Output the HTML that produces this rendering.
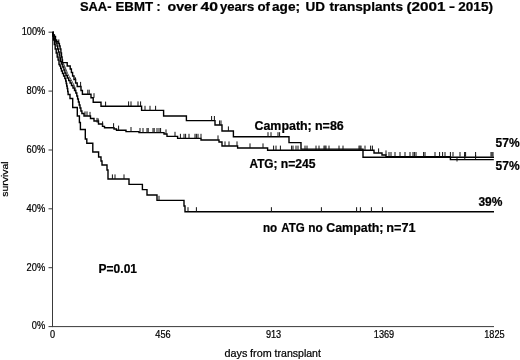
<!DOCTYPE html>
<html><head><meta charset="utf-8"><title>SAA-EBMT survival</title>
<style>
html,body{margin:0;padding:0;background:#fff;}
body{width:520px;height:360px;overflow:hidden;font-family:"Liberation Sans",sans-serif;}
svg{display:block;will-change:transform;}
</style></head><body>
<svg width="520" height="360" viewBox="0 0 520 360">
<rect width="520" height="360" fill="#ffffff"/>
<g stroke="#3a3a3a" stroke-width="1" fill="none">
<path d="M52.5 32V327"/>
<path d="M52 326.6H494"/>
<path d="M48.5 32.2H53"/>
<path d="M48.5 91.1H53"/>
<path d="M48.5 150.0H53"/>
<path d="M48.5 208.8H53"/>
<path d="M48.5 267.7H53"/>
<path d="M48.5 326.6H53"/>
</g>
<g stroke="#000" stroke-width="1.4" fill="none" stroke-linejoin="miter">
<path d="M52.9 32.2 H53.2 V35.0 H54.4 V36.5 H55.5 V40.0 H56.6 V41.5 H58.2 V43.5 H59.4 V46.0 H60.1 V49.0 H60.9 V53.0 H61.5 V57.0 H62.1 V60.0 H62.5 V62.6 H67.2 V66.0 H70.2 V69.0 H71.4 V72.5 H72.6 V76.0 H74.0 V79.5 H75.6 V83.0 H77.2 V86.5 H81.0 V90.5 H82.4 V94.3 H91.0 V97.8 H93.2 V102.2 H101.0 V106.2 H141.6 V110.4 H163.6 V116.0 H186.4 V120.6 H215.0 V125.0 H222.0 V131.0 H233.4 V136.8 H289.0 V142.6 H301.0 V149.1 H363.0 V157.2 H494.0"/>
<path d="M52.7 32.2 H53.0 V35.0 H53.8 V38.0 H54.8 V41.0 H55.9 V43.0 H57.0 V46.0 H57.7 V49.0 H58.4 V52.0 H59.2 V55.0 H59.9 V58.0 H60.4 V61.5 H61.4 V64.0 H62.8 V67.0 H63.9 V70.0 H64.9 V73.0 H66.0 V75.5 H67.3 V78.0 H68.7 V80.5 H70.1 V83.0 H71.5 V85.5 H73.0 V88.0 H74.5 V90.5 H75.8 V93.0 H76.8 V96.0 H77.6 V99.0 H78.4 V102.0 H79.2 V105.0 H80.0 V108.0 H80.9 V111.0 H81.9 V113.5 H84.0 V116.0 H90.5 V118.5 H94.0 V121.0 H98.5 V124.0 H102.5 V126.4 H104.5 V127.8 H114.0 V129.0 H116.5 V130.2 H126.0 V131.6 H139.0 V132.6 H164.0 V134.0 H167.0 V136.4 H177.6 V138.4 H201.0 V140.0 H219.0 V142.0 H222.0 V146.0 H237.6 V148.0 H267.6 V150.2 H374.0 V153.0 H382.0 V155.0 H386.0 V156.6 H450.4 V159.6 H493.8"/>
<path d="M52.4 32.2 H52.7 V36.0 H53.5 V40.0 H54.3 V44.5 H55.2 V49.0 H56.2 V53.0 H57.2 V57.0 H58.1 V60.0 H59.0 V64.5 H59.9 V66.0 H60.7 V68.5 H61.5 V71.0 H62.5 V73.5 H63.6 V76.0 H64.8 V78.5 H65.7 V81.0 H66.2 V83.5 H66.7 V86.0 H67.2 V88.5 H67.7 V91.5 H68.1 V94.5 H70.0 V98.5 H72.7 V107.5 H77.3 V116.0 H79.4 V122.5 H80.4 V129.5 H85.3 V139.0 H86.8 V143.2 H92.8 V152.0 H98.6 V157.0 H101.0 V161.0 H102.0 V165.0 H107.0 V170.0 H108.0 V179.0 H129.0 V184.4 H142.4 V189.6 H147.0 V195.0 H157.0 V200.4 H184.0 V206.0 H185.0 V211.8 H494.0"/>
</g>
<g stroke="#111" stroke-width="1" fill="none">
<path d="M58.8 44.0v-4.6 M75.5 82.0v-4.6 M80.6 86.5v-4.6 M87.8 94.3v-4.6 M89.2 94.3v-4.6 M94.0 97.8v-4.6 M105.6 106.2v-4.6 M128.6 106.0v-4.6 M131.0 106.0v-4.6 M138.0 106.0v-4.6 M140.6 106.0v-4.6 M145.0 110.4v-4.6 M150.0 110.4v-4.6 M155.6 110.4v-4.6 M211.6 120.6v-4.6 M214.4 120.6v-4.6 M219.6 125.0v-4.6 M221.0 125.0v-4.6 M228.4 131.0v-4.6 M268.0 136.8v-4.6 M271.0 136.8v-4.6 M278.0 136.8v-4.6 M279.6 136.8v-4.6"/>
<path d="M85.0 116.0v-4.6 M87.0 116.0v-4.6 M90.0 116.5v-4.6 M97.0 122.5v-4.6 M98.2 123.0v-4.6 M102.6 126.0v-4.6 M113.6 127.8v-4.6 M118.6 130.2v-4.6 M131.0 131.6v-4.6 M140.0 132.6v-4.6 M143.0 132.6v-4.6 M147.0 132.6v-4.6 M148.2 132.6v-4.6 M153.0 132.6v-4.6 M154.2 132.6v-4.6 M157.0 132.6v-4.6 M159.0 132.6v-4.6 M160.6 132.6v-4.6 M166.0 134.0v-4.6 M175.0 136.4v-4.6 M180.4 138.4v-4.6 M184.0 138.4v-4.6 M185.6 138.4v-4.6 M189.0 138.4v-4.6 M195.0 138.4v-4.6 M196.4 138.4v-4.6 M198.0 138.4v-4.6 M201.0 138.4v-4.6 M218.0 140.0v-4.6 M225.0 146.0v-4.6 M229.0 146.0v-4.6 M237.0 146.0v-4.6 M250.0 148.0v-4.6 M263.0 148.0v-4.6 M273.6 150.2v-4.6 M276.0 150.2v-4.6 M280.4 150.2v-4.6 M291.6 150.2v-4.6 M293.0 150.2v-4.6 M296.0 150.2v-4.6 M298.0 150.2v-4.6 M305.0 150.2v-4.6 M307.0 150.2v-4.6 M316.0 150.2v-4.6 M319.0 150.2v-4.6 M324.0 150.2v-4.6 M325.0 150.2v-4.6 M326.0 150.2v-4.6 M329.0 150.2v-4.6 M339.0 150.2v-4.6 M343.0 150.2v-4.6 M359.0 150.2v-4.6 M360.0 150.2v-4.6 M361.0 150.2v-4.6 M365.0 150.2v-4.6 M370.6 150.2v-4.6 M372.4 150.2v-4.6 M378.6 153.0v-4.6 M386.0 155.0v-4.6 M457.0 161.5v-4.6 M464.8 159.6v-4.6 M475.6 159.6v-4.6 M389.0 156.6v-4.6 M391.0 156.6v-4.6 M395.0 156.6v-4.6 M400.0 156.6v-4.6 M405.0 156.6v-4.6 M410.0 156.6v-4.6 M413.0 156.6v-4.6 M414.4 156.6v-4.6 M416.0 156.6v-4.6 M423.6 156.6v-4.6 M425.0 156.6v-4.6 M435.0 156.6v-4.6 M439.6 156.6v-4.6 M442.6 156.6v-4.6 M445.0 156.6v-4.6 M450.4 156.6v-4.6 M453.0 156.6v-4.6 M460.0 156.6v-4.6 M464.6 156.6v-4.6 M465.6 156.6v-4.6 M475.6 156.6v-4.6 M491.0 156.6v-4.6 M492.0 156.6v-4.6 M493.0 156.6v-4.6"/>
<path d="M63.2 63 L64.6 66 L66.2 70 L67.6 73.5 L69.2 76.5 L71 79.5 L72.6 82.5 L74 85 L75 87.5 L75.8 90" stroke="#333" stroke-width="0.9"/>
<path d="M112.4 179.0v-4.6 M115.0 179.0v-4.6 M124.0 179.0v-4.6 M159.0 200.4v-4.6 M188.0 211.8v-4.6 M196.4 211.8v-4.6 M271.4 211.8v-4.6 M321.4 211.8v-4.6 M356.6 211.8v-4.6 M360.4 211.8v-4.6 M371.4 211.8v-4.6 M382.4 211.8v-4.6"/>
</g>
<g font-family="'Liberation Sans', sans-serif" fill="#000" stroke="#000" stroke-width="0.22">
<text x="21.7" y="35.0" font-size="10.2" textLength="23.5" lengthAdjust="spacingAndGlyphs">100%</text>
<text x="26.6" y="93.9" font-size="10.2" textLength="18.6" lengthAdjust="spacingAndGlyphs">80%</text>
<text x="26.6" y="152.8" font-size="10.2" textLength="18.6" lengthAdjust="spacingAndGlyphs">60%</text>
<text x="26.6" y="211.6" font-size="10.2" textLength="18.6" lengthAdjust="spacingAndGlyphs">40%</text>
<text x="26.6" y="270.5" font-size="10.2" textLength="18.6" lengthAdjust="spacingAndGlyphs">20%</text>
<text x="31.8" y="329.4" font-size="10.2" textLength="13.4" lengthAdjust="spacingAndGlyphs">0%</text>
<text x="50.0" y="338" font-size="10.3" textLength="5.1" lengthAdjust="spacingAndGlyphs">0</text>
<text x="155.3" y="338" font-size="10.3" textLength="15.3" lengthAdjust="spacingAndGlyphs">456</text>
<text x="265.9" y="338" font-size="10.3" textLength="15.3" lengthAdjust="spacingAndGlyphs">913</text>
<text x="373.8" y="338" font-size="10.3" textLength="20.4" lengthAdjust="spacingAndGlyphs">1369</text>
<text x="484.2" y="338" font-size="10.3" textLength="20.4" lengthAdjust="spacingAndGlyphs">1825</text>
<text x="224.60" y="357.0" font-size="10.6" textLength="22.80" lengthAdjust="spacingAndGlyphs">days</text>
<text x="250.10" y="357.0" font-size="10.6" textLength="21.55" lengthAdjust="spacingAndGlyphs">from</text>
<text x="274.60" y="357.0" font-size="10.6" textLength="46.30" lengthAdjust="spacingAndGlyphs">transplant</text>
<text transform="translate(8.3 196.8) rotate(-90)" font-size="9.7" textLength="35.4" lengthAdjust="spacingAndGlyphs">survival</text>
<g font-weight="bold">
<text x="79.90" y="11" font-size="12.6" textLength="31.60" lengthAdjust="spacingAndGlyphs">SAA-</text>
<text x="115.50" y="11" font-size="12.6" textLength="37.50" lengthAdjust="spacingAndGlyphs">EBMT</text>
<text x="156.50" y="11" font-size="12.6" textLength="4.00" lengthAdjust="spacingAndGlyphs">:</text>
<text x="167.50" y="11" font-size="12.6" textLength="30.00" lengthAdjust="spacingAndGlyphs">over</text>
<text x="200.50" y="11" font-size="12.6" textLength="17.50" lengthAdjust="spacingAndGlyphs">40</text>
<text x="220.00" y="11" font-size="12.6" textLength="34.25" lengthAdjust="spacingAndGlyphs">years</text>
<text x="257.50" y="11" font-size="12.6" textLength="12.50" lengthAdjust="spacingAndGlyphs">of</text>
<text x="272.00" y="11" font-size="12.6" textLength="28.00" lengthAdjust="spacingAndGlyphs">age;</text>
<text x="305.50" y="11" font-size="12.6" textLength="19.50" lengthAdjust="spacingAndGlyphs">UD</text>
<text x="329.50" y="11" font-size="12.6" textLength="73.50" lengthAdjust="spacingAndGlyphs">transplants</text>
<text x="406.50" y="11" font-size="12.6" textLength="39.00" lengthAdjust="spacingAndGlyphs">(2001</text>
<text x="449.00" y="11" font-size="12.6" textLength="6.00" lengthAdjust="spacingAndGlyphs">-</text>
<text x="458.25" y="11" font-size="12.6" textLength="34.75" lengthAdjust="spacingAndGlyphs">2015)</text>
<text x="254.50" y="129.6" font-size="12" textLength="57.25" lengthAdjust="spacingAndGlyphs">Campath;</text>
<text x="315.00" y="129.6" font-size="12" textLength="28.75" lengthAdjust="spacingAndGlyphs">n=86</text>
<text x="249.50" y="168.0" font-size="12" textLength="28.00" lengthAdjust="spacingAndGlyphs">ATG;</text>
<text x="280.75" y="168.0" font-size="12" textLength="34.75" lengthAdjust="spacingAndGlyphs">n=245</text>
<text x="263.00" y="232.4" font-size="12" textLength="14.25" lengthAdjust="spacingAndGlyphs">no</text>
<text x="281.25" y="232.4" font-size="12" textLength="23.50" lengthAdjust="spacingAndGlyphs">ATG</text>
<text x="308.25" y="232.4" font-size="12" textLength="14.50" lengthAdjust="spacingAndGlyphs">no</text>
<text x="326.25" y="232.4" font-size="12" textLength="57.25" lengthAdjust="spacingAndGlyphs">Campath;</text>
<text x="386.25" y="232.4" font-size="12" textLength="29.25" lengthAdjust="spacingAndGlyphs">n=71</text>
<text x="98.6" y="272.7" font-size="12.3" textLength="38.4" lengthAdjust="spacingAndGlyphs">P=0.01</text>
<text x="495.6" y="147" font-size="12" textLength="24" lengthAdjust="spacingAndGlyphs">57%</text>
<text x="495.6" y="169.6" font-size="12" textLength="24" lengthAdjust="spacingAndGlyphs">57%</text>
<text x="478.4" y="205.6" font-size="12" textLength="24" lengthAdjust="spacingAndGlyphs">39%</text>
</g></g>
</svg>
</body></html>
